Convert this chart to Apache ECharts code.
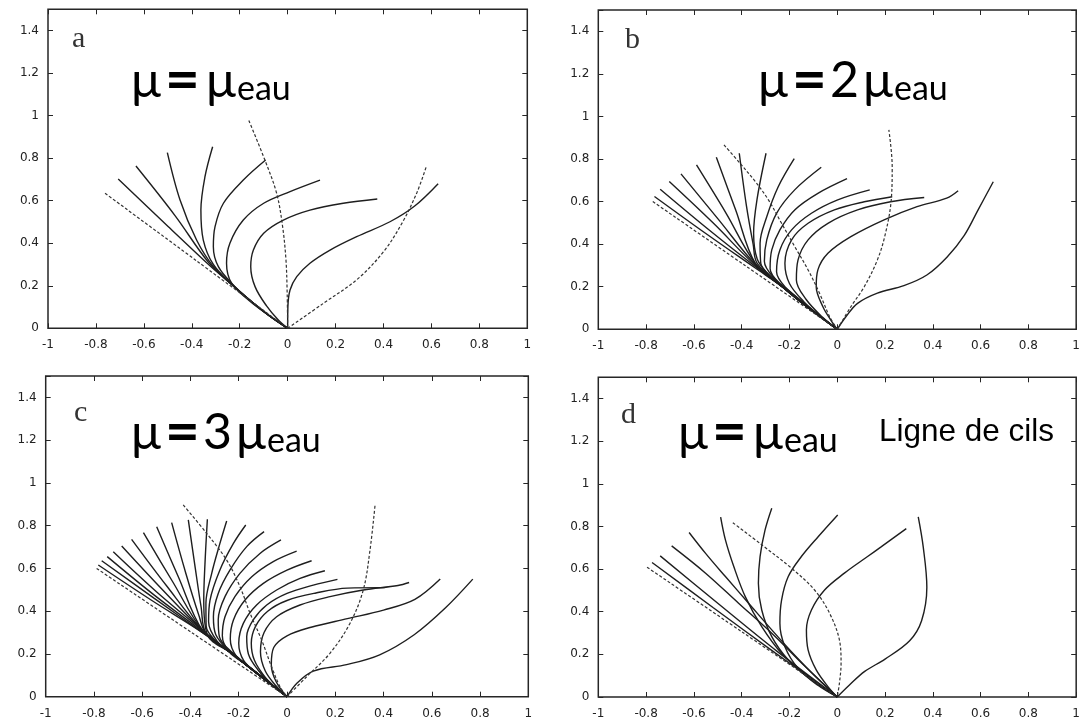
<!DOCTYPE html>
<html>
<head>
<meta charset="utf-8">
<script src="https://cdn.jsdelivr.net/npm/echarts@6/dist/echarts.min.js"></script>
<style>html,body{margin:0;padding:0;background:#fff}#c{width:1083px;height:723px}</style>
</head>
<body>
<div id="c"></div>
<script>
// ---------- tick labels ----------
const X_TICKS = [-1, -0.8, -0.6, -0.4, -0.2, 0, 0.2, 0.4, 0.6, 0.8, 1];
const Y_TICKS = [0, 0.2, 0.4, 0.6, 0.8, 1, 1.2, 1.4];

// ---------- texts ----------
const PANEL_LETTERS = ['a', 'b', 'c', 'd'];
const PANEL_TITLES = [['μ', '=', 'μ', 'eau'], ['μ', '=', '2', 'μ', 'eau'], ['μ', '=', '3', 'μ', 'eau'], ['μ', '=', 'μ', 'eau']];
const NOTE_D = 'Ligne de cils';

// ---------- panel a ----------
const A_solid = [
  [[-0.707,0.702],[-0.50,0.48],[-0.33,0.30],[-0.227,0.20],[-0.15,0.125],[-0.075,0.058],[0,0]],
  [[-0.633,0.763],[-0.47,0.53],[-0.33,0.31],[-0.227,0.20],[-0.15,0.125],[-0.075,0.058],[0,0]],
  [[-0.502,0.826],[-0.449,0.603],[-0.38,0.415],[-0.31,0.29],[-0.227,0.20],[-0.15,0.125],[-0.075,0.058],[0,0]],
  [[-0.313,0.854],[-0.345,0.713],[-0.362,0.556],[-0.352,0.415],[-0.31,0.30],[-0.227,0.20],[-0.15,0.125],[-0.075,0.058],[0,0]],
  [[-0.092,0.791],[-0.185,0.697],[-0.268,0.588],[-0.303,0.478],[-0.31,0.384],[-0.289,0.29],[-0.227,0.204],[-0.15,0.125],[-0.075,0.058],[0,0]],
  [[0.135,0.697],[0.01,0.643],[-0.10,0.588],[-0.185,0.509],[-0.241,0.40],[-0.255,0.306],[-0.234,0.212],[-0.16,0.13],[-0.075,0.058],[0,0]],
  [[0.374,0.608],[0.232,0.588],[0.093,0.556],[-0.018,0.509],[-0.10,0.447],[-0.143,0.368],[-0.154,0.29],[-0.136,0.196],[-0.088,0.105],[-0.04,0.04],[0,0]],
  [[0.628,0.68],[0.53,0.575],[0.427,0.501],[0.288,0.431],[0.177,0.368],[0.093,0.306],[0.038,0.243],[0.01,0.18],[0.001,0.10],[0,0]]
];
const A_dashed = [
  [[-0.762,0.635],[-0.381,0.318],[0,0]],
  [[-0.162,0.977],[-0.095,0.791],[-0.046,0.635],[-0.021,0.478],[-0.007,0.321],[-0.002,0.165],[0,0]],
  [[0,0],[0.15,0.118],[0.29,0.23],[0.40,0.36],[0.48,0.50],[0.54,0.64],[0.579,0.762]]
];

// ---------- panel b ----------
const B_solid = [
  [[-0.765,0.624],[-0.55,0.45],[-0.343,0.288],[-0.23,0.2],[-0.12,0.1],[0,0]],
  [[-0.741,0.658],[-0.54,0.47],[-0.343,0.295],[-0.23,0.2],[-0.12,0.1],[0,0]],
  [[-0.703,0.694],[-0.52,0.50],[-0.343,0.30],[-0.23,0.2],[-0.12,0.1],[0,0]],
  [[-0.654,0.73],[-0.50,0.52],[-0.343,0.305],[-0.23,0.2],[-0.12,0.1],[0,0]],
  [[-0.589,0.772],[-0.465,0.545],[-0.343,0.31],[-0.23,0.2],[-0.12,0.1],[0,0]],
  [[-0.506,0.808],[-0.425,0.56],[-0.343,0.31],[-0.23,0.2],[-0.12,0.1],[0,0]],
  [[-0.41,0.827],[-0.38,0.58],[-0.352,0.40],[-0.335,0.31],[-0.23,0.2],[-0.12,0.1],[0,0]],
  [[-0.298,0.827],[-0.336,0.608],[-0.35,0.451],[-0.335,0.33],[-0.29,0.26],[-0.23,0.2],[-0.12,0.1],[0,0]],
  [[-0.18,0.802],[-0.247,0.67],[-0.295,0.529],[-0.323,0.404],[-0.32,0.31],[-0.27,0.24],[-0.23,0.2],[-0.12,0.1],[0,0]],
  [[-0.067,0.761],[-0.178,0.655],[-0.254,0.545],[-0.295,0.42],[-0.305,0.32],[-0.26,0.235],[-0.2,0.18],[-0.115,0.10],[0,0]],
  [[0.041,0.708],[-0.081,0.639],[-0.178,0.561],[-0.24,0.467],[-0.274,0.373],[-0.281,0.285],[-0.235,0.21],[-0.12,0.105],[0,0]],
  [[0.136,0.655],[0.002,0.608],[-0.108,0.545],[-0.191,0.467],[-0.24,0.373],[-0.254,0.27],[-0.215,0.195],[-0.12,0.105],[0,0]],
  [[0.23,0.623],[0.113,0.599],[-0.012,0.561],[-0.122,0.498],[-0.191,0.42],[-0.219,0.31],[-0.2,0.215],[-0.14,0.13],[-0.065,0.055],[0,0]],
  [[0.364,0.619],[0.223,0.599],[0.085,0.561],[-0.039,0.498],[-0.122,0.42],[-0.164,0.326],[-0.171,0.232],[-0.13,0.14],[-0.06,0.055],[0,0]],
  [[0.506,0.651],[0.458,0.616],[0.334,0.576],[0.196,0.514],[0.057,0.435],[-0.039,0.357],[-0.081,0.279],[-0.088,0.20],[-0.06,0.106],[-0.025,0.04],[0,0]],
  [[0.653,0.693],[0.589,0.56],[0.531,0.44],[0.46,0.34],[0.375,0.255],[0.279,0.205],[0.168,0.17],[0.085,0.122],[0.037,0.06],[0,0]]
];
const B_dashed = [
  [[-0.772,0.60],[-0.386,0.30],[0,0]],
  [[-0.474,0.866],[-0.413,0.788],[-0.343,0.694],[-0.288,0.608],[-0.233,0.498],[-0.178,0.389],[-0.122,0.279],[-0.074,0.169],[-0.032,0.06],[0,0]],
  [[0,0],[0.057,0.106],[0.113,0.20],[0.168,0.326],[0.202,0.451],[0.226,0.608],[0.23,0.764],[0.216,0.937]]
];

// ---------- panel c ----------
const C_solid = [
  [[-0.782,0.616],[-0.56,0.45],[-0.35,0.30],[-0.23,0.203],[-0.115,0.101],[0,0]],
  [[-0.768,0.636],[-0.55,0.46],[-0.35,0.30],[-0.23,0.203],[-0.115,0.101],[0,0]],
  [[-0.745,0.655],[-0.55,0.475],[-0.35,0.305],[-0.23,0.203],[-0.115,0.101],[0,0]],
  [[-0.72,0.678],[-0.54,0.49],[-0.35,0.31],[-0.23,0.203],[-0.115,0.101],[0,0]],
  [[-0.685,0.705],[-0.52,0.505],[-0.35,0.31],[-0.23,0.203],[-0.115,0.101],[0,0]],
  [[-0.644,0.736],[-0.50,0.52],[-0.35,0.31],[-0.23,0.203],[-0.115,0.101],[0,0]],
  [[-0.595,0.767],[-0.475,0.54],[-0.35,0.31],[-0.23,0.203],[-0.115,0.101],[0,0]],
  [[-0.54,0.795],[-0.45,0.56],[-0.35,0.31],[-0.23,0.203],[-0.115,0.101],[0,0]],
  [[-0.478,0.814],[-0.42,0.58],[-0.365,0.38],[-0.335,0.295],[-0.23,0.203],[-0.115,0.101],[0,0]],
  [[-0.409,0.827],[-0.38,0.60],[-0.356,0.42],[-0.335,0.295],[-0.23,0.203],[-0.115,0.101],[0,0]],
  [[-0.33,0.83],[-0.34,0.62],[-0.345,0.45],[-0.33,0.29],[-0.23,0.203],[-0.115,0.101],[0,0]],
  [[-0.25,0.822],[-0.278,0.717],[-0.312,0.577],[-0.336,0.437],[-0.335,0.33],[-0.295,0.26],[-0.23,0.203],[-0.115,0.101],[0,0]],
  [[-0.171,0.803],[-0.222,0.717],[-0.278,0.593],[-0.319,0.452],[-0.325,0.35],[-0.29,0.26],[-0.23,0.203],[-0.115,0.101],[0,0]],
  [[-0.095,0.772],[-0.167,0.702],[-0.236,0.593],[-0.285,0.483],[-0.305,0.374],[-0.295,0.29],[-0.24,0.215],[-0.12,0.106],[0,0]],
  [[-0.025,0.733],[-0.112,0.67],[-0.195,0.577],[-0.257,0.468],[-0.285,0.36],[-0.28,0.28],[-0.225,0.205],[-0.115,0.103],[0,0]],
  [[0.04,0.681],[-0.057,0.632],[-0.146,0.561],[-0.216,0.468],[-0.257,0.374],[-0.268,0.285],[-0.24,0.21],[-0.17,0.15],[-0.09,0.08],[0,0]],
  [[0.102,0.636],[0,0.592],[-0.098,0.53],[-0.174,0.452],[-0.222,0.359],[-0.235,0.27],[-0.21,0.19],[-0.14,0.125],[-0.07,0.062],[0,0]],
  [[0.157,0.589],[0.054,0.553],[-0.043,0.499],[-0.126,0.429],[-0.181,0.343],[-0.2,0.25],[-0.18,0.17],[-0.12,0.105],[-0.06,0.052],[0,0]],
  [[0.209,0.549],[0.109,0.522],[0,0.483],[-0.084,0.429],[-0.14,0.359],[-0.167,0.281],[-0.16,0.2],[-0.12,0.125],[-0.06,0.055],[0,0]],
  [[0.405,0.51],[0.25,0.508],[0.12,0.485],[0,0.45],[-0.08,0.40],[-0.13,0.33],[-0.148,0.25],[-0.135,0.17],[-0.09,0.09],[-0.04,0.035],[0,0]],
  [[0.506,0.534],[0.46,0.52],[0.316,0.499],[0.178,0.468],[0.054,0.429],[-0.043,0.374],[-0.095,0.30],[-0.11,0.21],[-0.09,0.12],[-0.045,0.05],[0,0]],
  [[0.635,0.55],[0.53,0.455],[0.40,0.405],[0.25,0.365],[0.1,0.325],[0,0.285],[-0.055,0.23],[-0.065,0.15],[-0.045,0.07],[0,0]],
  [[0.77,0.55],[0.657,0.416],[0.527,0.29],[0.384,0.196],[0.247,0.15],[0.109,0.12],[0.04,0.062],[0,0]]
];
const C_dashed = [
  [[-0.789,0.60],[-0.395,0.30],[0,0]],
  [[-0.43,0.897],[-0.333,0.764],[-0.25,0.639],[-0.195,0.515],[-0.153,0.39],[-0.105,0.265],[-0.064,0.14],[-0.029,0.047],[0,0]],
  [[0,0],[0.082,0.094],[0.178,0.203],[0.261,0.343],[0.316,0.499],[0.344,0.686],[0.365,0.897]]
];

// ---------- panel d ----------
const D_solid = [
  [[-0.775,0.631],[-0.52,0.42],[-0.26,0.207],[0,0]],
  [[-0.741,0.662],[-0.50,0.44],[-0.25,0.213],[0,0]],
  [[-0.693,0.709],[-0.551,0.581],[-0.413,0.44],[-0.274,0.299],[-0.136,0.145],[0,0]],
  [[-0.62,0.772],[-0.551,0.674],[-0.468,0.565],[-0.371,0.44],[-0.274,0.315],[-0.177,0.195],[-0.09,0.095],[0,0]],
  [[-0.488,0.844],[-0.468,0.737],[-0.433,0.612],[-0.385,0.471],[-0.316,0.33],[-0.233,0.205],[-0.12,0.095],[0,0]],
  [[-0.274,0.886],[-0.302,0.784],[-0.323,0.659],[-0.33,0.534],[-0.316,0.408],[-0.274,0.283],[-0.205,0.174],[-0.108,0.08],[0,0]],
  [[0.002,0.854],[-0.079,0.753],[-0.15,0.659],[-0.205,0.565],[-0.233,0.455],[-0.24,0.346],[-0.219,0.236],[-0.164,0.135],[-0.081,0.055],[0,0]],
  [[0.289,0.79],[0.182,0.703],[0.127,0.659],[0.03,0.581],[-0.053,0.502],[-0.108,0.408],[-0.129,0.315],[-0.122,0.221],[-0.088,0.127],[-0.039,0.049],[0,0]],
  [[0.339,0.845],[0.36,0.703],[0.375,0.515],[0.353,0.358],[0.303,0.264],[0.2,0.178],[0.115,0.12],[0.05,0.055],[0,0]]
];
const D_dashed = [
  [[-0.796,0.609],[-0.398,0.305],[0,0]],
  [[-0.437,0.818],[-0.316,0.714],[-0.191,0.604],[-0.095,0.502],[-0.032,0.393],[0.009,0.268],[0.016,0.158],[0.009,0.064],[0,0]]
];

// ---------- layout ----------
const GRIDS = [
  {left: 48, top: 9.3, width: 479.3, height: 319},
  {left: 598.3, top: 10, width: 482.4, height: 319.3},
  {left: 45.7, top: 376, width: 482.6, height: 320.7},
  {left: 598.3, top: 377.3, width: 482.4, height: 319.7}
];
const PANELS = [[A_solid, A_dashed], [B_solid, B_dashed], [C_solid, C_dashed], [D_solid, D_dashed]];

function fmt(list) {
  return function (v) {
    for (const t of list) { if (Math.abs(t - v) < 1e-6) return String(t); }
    return '';
  };
}
const INK = '#262626';
const labelStyle = {fontFamily: 'DejaVu Sans', fontSize: 12, color: '#222'};
const tickStyle = {show: true, inside: true, length: 5, lineStyle: {color: INK, width: 1}};

const xAxis = [], yAxis = [], series = [];
GRIDS.forEach((g, i) => {
  xAxis.push({type: 'value', gridIndex: i, min: -1, max: 1, interval: 0.2, position: 'bottom',
    axisLine: {show: false, onZero: false}, splitLine: {show: false}, axisTick: tickStyle,
    axisLabel: Object.assign({margin: 11, formatter: fmt(X_TICKS)}, labelStyle)});
  yAxis.push({type: 'value', gridIndex: i, min: 0, max: 1.5, interval: 0.2, position: 'left',
    axisLine: {show: false, onZero: false}, splitLine: {show: false}, axisTick: tickStyle,
    axisLabel: Object.assign({margin: 9, formatter: fmt(Y_TICKS)}, labelStyle)});
});
GRIDS.forEach((g, i) => {
  xAxis.push({type: 'value', gridIndex: i, min: -1, max: 1, interval: 0.2, position: 'top',
    axisLine: {show: false, onZero: false}, splitLine: {show: false}, axisLabel: {show: false},
    axisTick: tickStyle});
  yAxis.push({type: 'value', gridIndex: i, min: 0, max: 1.5, interval: 0.2, position: 'right',
    axisLine: {show: false, onZero: false}, splitLine: {show: false}, axisLabel: {show: false},
    axisTick: tickStyle});
});

PANELS.forEach((p, i) => {
  p[0].forEach(curve => series.push({type: 'line', xAxisIndex: i, yAxisIndex: i, data: curve,
    showSymbol: false, smooth: 0.35, silent: true, clip: false,
    lineStyle: {color: '#1e1e1e', width: 1.4}}));
  p[1].forEach(curve => series.push({type: 'line', xAxisIndex: i, yAxisIndex: i, data: curve,
    showSymbol: false, smooth: 0.35, silent: true, clip: false,
    lineStyle: {color: '#333', width: 1.2, type: [3, 2]}}));
});

// title glyph placement (x offsets from start, per glyph)
const TITLE_START = [[133, 56], [760, 56], [133, 408], [680, 408]];
const OFFS3 = [-2, 32, 73, 104];
const OFFS4 = [-2, 32, 70, 103, 134];
const LETTER_POS = [[72, 24], [625, 25], [74, 398], [621, 400]];
const graphic = [];
PANEL_TITLES.forEach((glyphs, i) => {
  const offs = glyphs.length === 4 ? OFFS3 : OFFS4;
  const [sx, sy] = TITLE_START[i];
  glyphs.forEach((g, k) => {
    const isSub = k === glyphs.length - 1;
    const isEq = g === '=';
    const font = isSub ? '34px Lato' : (isEq ? 'bold 60px Lato' : '50px Lato');
    const top = isSub ? sy + 16 : (isEq ? sy - 5 : sy);
    graphic.push({type: 'text', left: sx + offs[k], top: top, z: 100,
      style: {text: g, font: font, fill: '#000'}});
  });
  graphic.push({type: 'text', left: LETTER_POS[i][0], top: LETTER_POS[i][1], z: 100,
    style: {text: PANEL_LETTERS[i], font: '30px "Liberation Serif"', fill: '#333'}});
});
graphic.push({type: 'text', left: 879, top: 416, z: 100,
  style: {text: NOTE_D, font: '31.5px "Liberation Sans"', fill: '#000'}});

const chart = echarts.init(document.getElementById('c'), null, {renderer: 'canvas'});
chart.setOption({
  animation: false,
  backgroundColor: '#fff',
  grid: GRIDS.map(g => Object.assign({show: true, borderColor: INK, borderWidth: 1.5, containLabel: false}, g)),
  xAxis, yAxis, series, graphic
});
</script>
</body>
</html>
